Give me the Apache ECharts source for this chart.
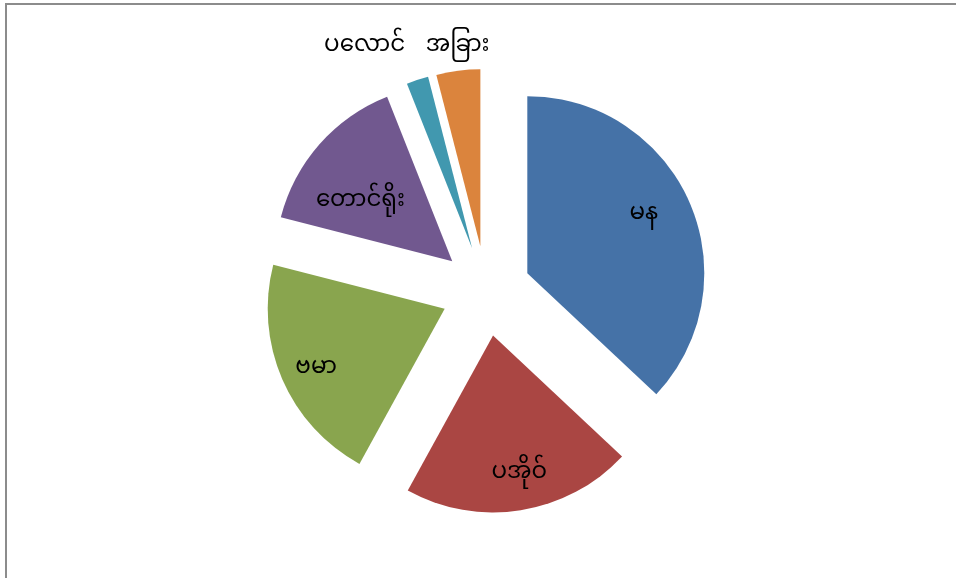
<!DOCTYPE html>
<html>
<head>
<meta charset="utf-8">
<script src="https://cdn.jsdelivr.net/npm/echarts@6/dist/echarts.min.js"></script>
<style>
  html, body { margin: 0; padding: 0; width: 956px; height: 578px; overflow: hidden; background: #fff; }
  #frame { position: absolute; left: 5px; top: 3px; width: 2000px; height: 2000px; border: 2px solid #8c8c8c; box-sizing: border-box; }
  #chart { position: absolute; left: 0; top: 0; width: 956px; height: 578px; }
</style>
</head>
<body>
<div id="frame"></div>
<div id="chart"></div>
<script>
const categories = ['မန', 'ပအိုဝ်', 'ဗမာ', 'တောင်ရိုး', 'ပလောင်', 'အခြား'];
const values = [37, 21, 21, 15, 2, 4];
const colors = ['#4572A7', '#AA4643', '#89A54E', '#71588F', '#4198AF', '#DB843D'];

const CENTER = [486, 291];
const R = 177;
const OFFSET = 45;
const FONT = '"Noto Sans Myanmar", "Myanmar Text", "Padauk", "Noto Sans", sans-serif';
// small label nudges (style only), per slice
const labelNudge = [[-8, -3], [5, 6], [-4, 8], [10, 32], [0, 6], [3, 6]];

const chart = echarts.init(document.getElementById('chart'), null, { renderer: 'canvas' });

function baseSeries(radius) {
  return {
    type: 'pie',
    center: CENTER,
    radius: radius,
    startAngle: 90,
    clockwise: true,
    selectedMode: 'multiple',
    selectedOffset: OFFSET,
    avoidLabelOverlap: false,
    animation: false,
    emphasis: { disabled: true, scale: false },
    labelLine: { show: false }
  };
}

const mainSeries = Object.assign(baseSeries([0, R]), {
  silent: true,
  label: { show: false },
  select: { itemStyle: { borderWidth: 0 } },
  data: categories.map((c, i) => ({
    name: c, value: values[i], selected: true,
    itemStyle: { color: colors[i], borderWidth: 0 },
    select: { itemStyle: { color: colors[i], borderWidth: 0 } }
  }))
});

// transparent helper pies used only to place labels along each slice's bisector
function labelHelper(radius, showIdx, align) {
  return Object.assign(baseSeries([0, radius]), {
    silent: true,
    z: 5,
    minShowLabelAngle: 0,
    itemStyle: { color: 'rgba(0,0,0,0)', borderWidth: 0 },
    select: { itemStyle: { color: 'rgba(0,0,0,0)', borderWidth: 0 } },
    labelLayout: function (p) {
      const n = labelNudge[p.dataIndex];
      return { dx: n[0], dy: n[1], align: align };
    },
    data: categories.map((c, i) => ({
      name: c, value: values[i], selected: true,
      itemStyle: { color: 'rgba(0,0,0,0)', borderWidth: 0 },
      label: {
        show: showIdx.indexOf(i) >= 0,
        position: 'inside',
        formatter: '{b}',
        color: '#000',
        fontSize: 23,
        fontFamily: FONT,
        overflow: 'none'
      }
    }))
  });
}

const option = {
  backgroundColor: 'transparent',
  animation: false,
  series: [
    mainSeries,
    labelHelper(R * 1.5, [0, 1, 2, 3], 'center'),
    labelHelper(427, [4], 'right'),
    labelHelper(404, [5], 'center')
  ]
};
chart.setOption(option);
</script>
</body>
</html>
